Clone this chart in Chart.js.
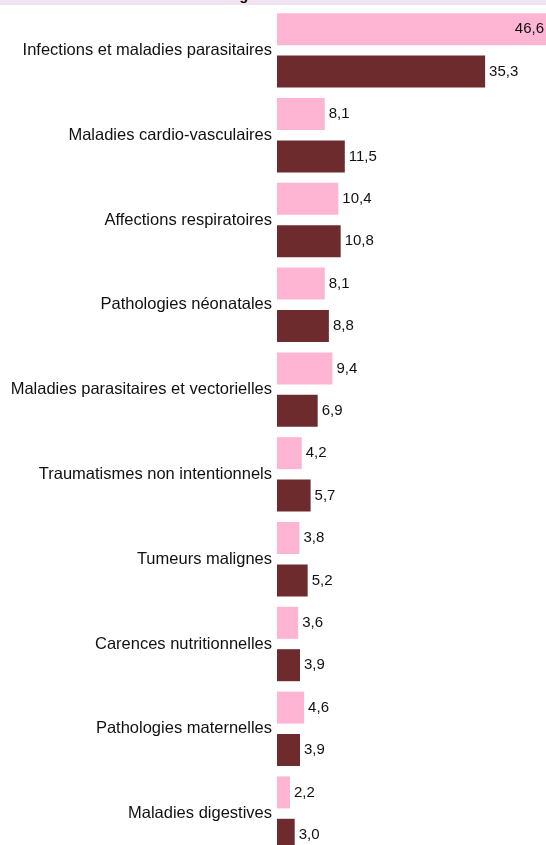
<!DOCTYPE html>
<html lang="fr">
<head>
<meta charset="utf-8">
<title>Causes de décès</title>
<script src="https://cdn.jsdelivr.net/npm/chart.js@4/dist/chart.umd.min.js"></script>
<style>
  html, body { margin: 0; padding: 0; background: #fff; overflow: hidden; }
  body { width: 546px; height: 845px; position: relative; }
  .title-band {
    position: relative; height: 5px; background: #f1e4f1; overflow: hidden;
  }
  .title-band span {
    position: absolute; left: 66px; top: -12px; white-space: nowrap;
    font: bold 14px "Liberation Sans", Arial, sans-serif; line-height: 14px; color: #000;
  }
  .chart-box { position: relative; width: 560px; height: 851px; }
</style>
</head>
<body>
<div class="title-band"><span>Causes de décès selon le genre</span></div>
<div class="chart-box"><canvas id="chart"></canvas></div>
<script>
const categories = [
    'Infections et maladies parasitaires',
    'Maladies cardio-vasculaires',
    'Affections respiratoires',
    'Pathologies néonatales',
    'Maladies parasitaires et vectorielles',
    'Traumatismes non intentionnels',
    'Tumeurs malignes',
    'Carences nutritionnelles',
    'Pathologies maternelles',
    'Maladies digestives',
];
const femmes = [46.6, 8.1, 10.4, 8.1, 9.4, 4.2, 3.8, 3.6, 4.6, 2.2];
const hommes = [35.3, 11.5, 10.8, 8.8, 6.9, 5.7, 5.2, 3.9, 3.9, 3.0];

const FONT = '"Liberation Sans", Arial, sans-serif';
const fmt = v => v.toFixed(1).replace('.', ',');

// writes each bar's value just past its end, pulled inside when it would leave the page
const valueLabels = {
    id: 'valueLabels',
    afterDatasetsDraw(chart) {
        const ctx = chart.ctx;
        ctx.save();
        ctx.font = '15px ' + FONT;
        ctx.fillStyle = '#111';
        ctx.textBaseline = 'middle';
        ctx.textAlign = 'left';
        chart.data.datasets.forEach((ds, di) => {
            chart.getDatasetMeta(di).data.forEach((bar, i) => {
                const txt = fmt(ds.data[i]);
                const w = ctx.measureText(txt).width;
                let x = bar.x + 4;
                if (x + w > 544) x = 544 - w;
                ctx.fillText(txt, x, bar.y);
            });
        });
        ctx.restore();
    }
};

new Chart(document.getElementById('chart'), {
    type: 'bar',
    data: {
        labels: categories,
        datasets: [
            { label: 'Femmes', data: femmes, backgroundColor: '#feb4d3' },
            { label: 'Hommes', data: hommes, backgroundColor: '#6d2b2e' },
        ]
    },
    options: {
        indexAxis: 'y',
        responsive: true,
        maintainAspectRatio: false,
        animation: false,
        layout: { padding: { top: 3, right: 0, bottom: 0, left: 0 } },
        datasets: { bar: { categoryPercentage: 1, barPercentage: 0.755 } },
        scales: {
            x: { display: false, min: 0, max: 48 },
            y: {
                grid: { display: false, drawTicks: false },
                border: { display: false },
                ticks: {
                    color: '#111',
                    padding: 5,
                    font: { family: FONT, size: 16.5 },
                },
                afterFit: s => {
                    s.width = 277;
                    s.paddingTop = 0;
                    s.paddingBottom = 0;
                }
            }
        },
        plugins: {
            legend: { display: false },
            tooltip: { enabled: false }
        }
    },
    plugins: [valueLabels]
});
</script>
</body>
</html>
